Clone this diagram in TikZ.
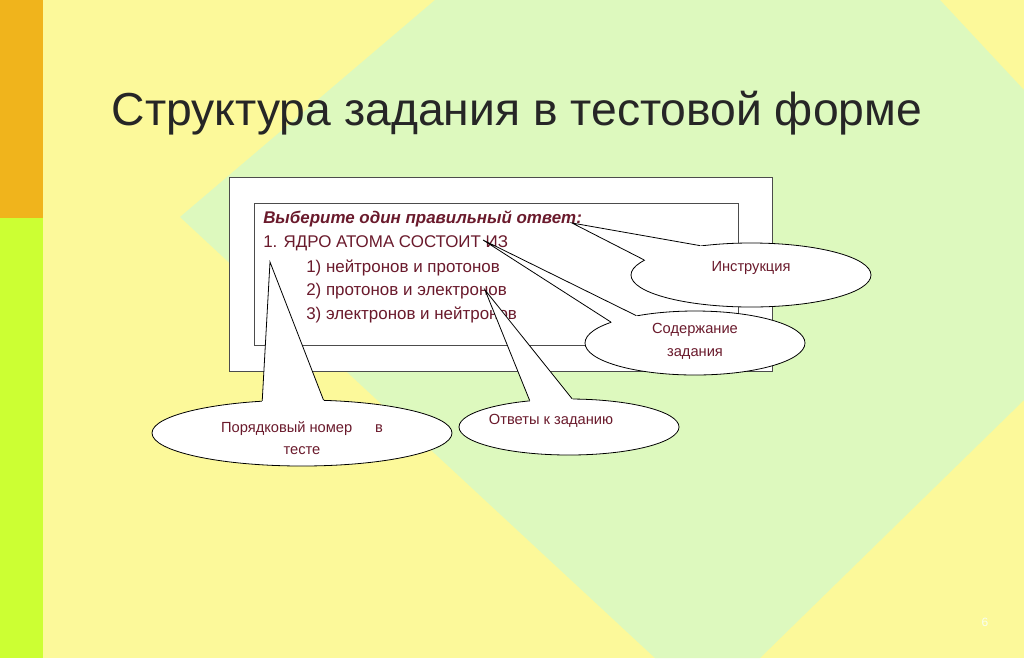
\documentclass[tikz,border=0pt]{standalone}
\usepackage{fontspec}
\setmainfont{Liberation Sans}
\usetikzlibrary{shapes.geometric,calc}
\definecolor{bgy}{HTML}{FCF99A}
\definecolor{bgg}{HTML}{DDF9BE}
\definecolor{orb}{HTML}{F0B41C}
\definecolor{lim}{HTML}{CCFF33}
\definecolor{txt}{HTML}{6A1A2C}
\tikzset{
 callout/.style={ellipse,draw=black,fill=white,line width=0.6pt,inner sep=0pt},
 clabel/.style={font=\fontsize{11pt}{17pt}\selectfont,text=txt,align=center,inner sep=0pt},
 line/.style={draw=black,line width=0.6pt},
 body/.style={anchor=base west,text=txt,inner sep=0pt,font=\fontsize{12.7pt}{14pt}\selectfont}
}
\begin{document}
\begin{tikzpicture}[x=0.75pt,y=-0.75pt]
\useasboundingbox (0,0) rectangle (1024,658);
\fill[bgy] (0,0) rectangle (1024,658);
\fill[bgg] (180,217) -- (435,0) -- (940,0) -- (1024,90) -- (1024,400) -- (760,658) -- (655,658) -- cycle;
\fill[orb] (0,0) rectangle (43,218);
\fill[lim] (0,218) rectangle (43,658);
\node[text=black!85,font=\fontsize{34.7pt}{40pt}\selectfont] (title) at (517,113) {Структура задания в тестовой форме};
\node[draw=black!70,fill=white,line width=0.8pt,minimum width=543*0.75pt,minimum height=194*0.75pt,anchor=north west,inner sep=0pt] (outer) at (229,177) {};
\node[draw=black!70,fill=white,line width=0.8pt,minimum width=484*0.75pt,minimum height=142*0.75pt,anchor=north west,inner sep=0pt] (inner) at (254,203) {};
\node[body,font=\fontsize{12.7pt}{14pt}\selectfont\bfseries\itshape] (t0) at (263,223) {Выберите один правильный ответ:};
\node[body] (t1) at (263,247) {1. ЯДРО АТОМА СОСТОИТ ИЗ};
\node[body] (t2) at (306,272) {1) нейтронов и протонов};
\node[body] (t3) at (306,295) {2) протонов и электронов};
\node[body] (t4) at (306,319) {3) электронов и нейтронов};
\coordinate (pi) at (572,223);
\coordinate (ps) at (483,240);
\coordinate (po) at (485,290);
\coordinate (pn) at (270,262);
\node[callout,minimum width=240*0.75pt,minimum height=64*0.75pt] (instr) at (751,275) {};
\node[callout,minimum width=220*0.75pt,minimum height=64*0.75pt] (sod) at (695,343) {};
\node[callout,minimum width=220*0.75pt,minimum height=56*0.75pt] (otv) at (569,427) {};
\node[callout,minimum width=300*0.75pt,minimum height=66*0.75pt] (por) at (302,433) {};
\foreach \n/\p/\a/\b in {instr/pi/150/172, sod/ps/155/166, otv/po/146/84, por/pn/141/57}{
  \fill[white] (\p) -- ($(\p)!1.1!(\n.\a)$) -- ($(\p)!1.1!(\n.\b)$) -- cycle;
  \draw[line] (\n.\a) -- (\p) -- (\n.\b);
}
\node[clabel] (linstr) at (751,268) {Инструкция};
\node[clabel] (lsod) at (695,341) {Содержание\\задания};
\node[clabel] (lotv) at (551,421) {Ответы к заданию};
\node[clabel] (lpor) at (302,438) {Порядковый номер\quad\ \ в\\тесте};
\node[text=white!80!bgg,font=\small] (pg) at (985,622) {6};
\end{tikzpicture}
\end{document}
